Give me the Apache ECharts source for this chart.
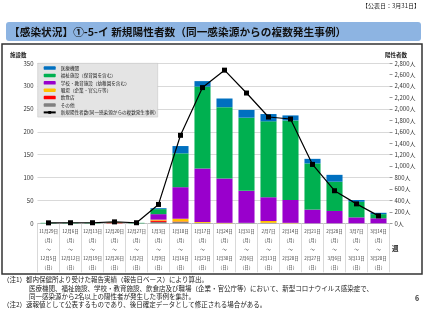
<!DOCTYPE html>
<html><head><meta charset="utf-8">
<script src="https://cdn.jsdelivr.net/npm/echarts@6/dist/echarts.min.js"></script>
<style>html,body{margin:0;padding:0;background:#fff}#c{width:427px;height:320px}</style>
</head><body><div id="c"></div>
<script>
const startDates = ['11月29日','12月6日','12月13日','12月20日','12月27日','1月3日','1月10日','1月17日','1月24日','1月31日','2月7日','2月14日','2月21日','2月28日','3月7日','3月14日'];
const endDates = ['12月5日','12月12日','12月19日','12月26日','1月2日','1月9日','1月16日','1月23日','1月30日','2月6日','2月13日','2月20日','2月27日','3月6日','3月13日','3月20日'];
const medical = [0,0,0,0,0,2,16,12,19,17,16,11,10,15,4,3];
const welfare = [1,1,1,0,1,11,74,179,156,160,166,174,101,64,34,9];
const school = [0,0,0,0,0,12,69,117,97,70,52,50,30,27,13,11];
const workplace = [0,0,0,1,0,2,6,2,1,0,4,1,0,0,0,0];
const restaurant = [0,0,0,1,0,3,1,0,0,0,0,0,0,0,0,0];
const others = [0,0,0,0,0,3,3,1,0,1,1,0,0,0,0,0];
const positives = [8,10,10,25,10,330,1540,2375,2680,2280,1860,1825,1030,570,340,130];
const leftTicks = {min:0, max:350, interval:50};
const rightTicks = {min:0, max:2800, interval:200};

const F = '"Noto Sans CJK JP", "Noto Sans", sans-serif';
const categories = startDates.map((s,i)=> s + '\n（月）\n～\n' + endDates[i] + '\n（日）');
const names = ['医療機関','福祉施設（保育園を含む）','学校・教育施設（幼稚園を含む）','職場（企業・官公庁等）','飲食店','その他','新規陽性者数(同一感染源からの複数発生事例)'];
const colors = ['#0070C0','#00B050','#9900CC','#FFC000','#FF0000','#808080'];
const barData = [medical, welfare, school, workplace, restaurant, others];

const chart = echarts.init(document.getElementById('c'), null, {renderer:'canvas'});
const barSeries = [];
for (let k = 5; k >= 0; k--) {
  barSeries.push({name: names[k], type:'bar', stack:'total', data: barData[k],
    itemStyle:{color: colors[k]}, barCategoryGap:'27%', yAxisIndex:0});
}
const notes = [
  {x:3, y:280, t:'（注1）都内保健所より受けた報告実績（報告日ベース）により算出。'},
  {x:29, y:289, t:'医療機関、福祉施設、学校・教育施設、飲食店及び職場（企業・官公庁等）において、新型コロナウイルス感染症で、'},
  {x:29, y:297, t:'同一感染源から2名以上の陽性者が発生した事例を集計。'},
  {x:3, y:305, t:'（注2）速報値として公表するものであり、後日確定データとして修正される場合がある。'}
];
const option = {
  backgroundColor:'#fff',
  animation:false,
  textStyle:{fontFamily:F},
  grid:{left:37.5, right:37.5, top:63.3, bottom:96.7, containLabel:false},
  legend:{
    orient:'vertical', left:37.7, top:63.3,
    data: names, backgroundColor:'#e4e4e4', borderColor:'#c0c0c0', borderWidth:0.5,
    padding:[1,2,1,5], itemWidth:12, itemHeight:3.5, itemGap:0,
    textStyle:{fontSize:4.6, lineHeight:7.4, color:'#222', fontFamily:F}
  },
  xAxis:{
    type:'category', data:categories,
    axisLine:{lineStyle:{color:'#bfbfbf'}},
    axisTick:{show:true, interval:0, length:49, lineStyle:{color:'#d9d9d9'}},
    axisLabel:{interval:0, fontSize:4.5, lineHeight:9.2, margin:3, color:'#333', fontFamily:F}
  },
  yAxis:[
    {type:'value', min:leftTicks.min, max:leftTicks.max, interval:leftTicks.interval,
     axisLine:{show:false}, axisTick:{show:false},
     axisLabel:{fontSize:6, color:'#333', margin:4, fontFamily:F},
     splitLine:{lineStyle:{color:'#d9d9d9'}}},
    {type:'value', position:'right', min:rightTicks.min, max:rightTicks.max, interval:rightTicks.interval,
     axisLine:{show:false}, axisTick:{show:true, length:3, lineStyle:{color:'#999'}},
     axisLabel:{fontSize:6, color:'#333', margin:5, fontFamily:F,
       formatter:v=> v.toLocaleString('en-US') + '人'},
     splitLine:{show:false}}
  ],
  series: barSeries.concat([{
    name:names[6], type:'line', yAxisIndex:1, data:positives,
    symbol:'rect', symbolSize:5, color:'#000',
    lineStyle:{color:'#000', width:1.2}, itemStyle:{color:'#000'}, z:10
  }]),
  graphic:[
    {type:'text', left:362, top:3, style:{text:'【公表日：3月31日】', font:'6px '+F, fill:'#222'}},
    {type:'rect', shape:{x:6, y:22, width:415, height:19, r:3}, style:{fill:'#8DB4E2'}},
    {type:'text', x:9, y:31.5, style:{text:'【感染状況】①-5-イ 新規陽性者数（同一感染源からの複数発生事例）', font:'bold 10.7px '+F, fill:'#111', verticalAlign:'middle'}},
    {type:'rect', shape:{x:2, y:44, width:420, height:230}, style:{fill:'none', stroke:'#333', lineWidth:1.5}},
    {type:'text', x:10, y:55, style:{text:'施設数', font:'bold 5.5px '+F, fill:'#222', verticalAlign:'middle'}},
    {type:'text', x:385, y:55, style:{text:'陽性者数', font:'bold 5.5px '+F, fill:'#222', verticalAlign:'middle'}},
    {type:'text', x:392, y:249, style:{text:'週', font:'bold 6.5px '+F, fill:'#222', verticalAlign:'middle'}},
    {type:'text', x:415, y:298, style:{text:'6', font:'bold 7px '+F, fill:'#333', verticalAlign:'middle'}}
  ].concat(notes.map(n=>({type:'text', x:n.x, y:n.y, style:{text:n.t, font:'6.5px '+F, fill:'#222', verticalAlign:'middle'}})))
};
chart.setOption(option);
</script></body></html>
